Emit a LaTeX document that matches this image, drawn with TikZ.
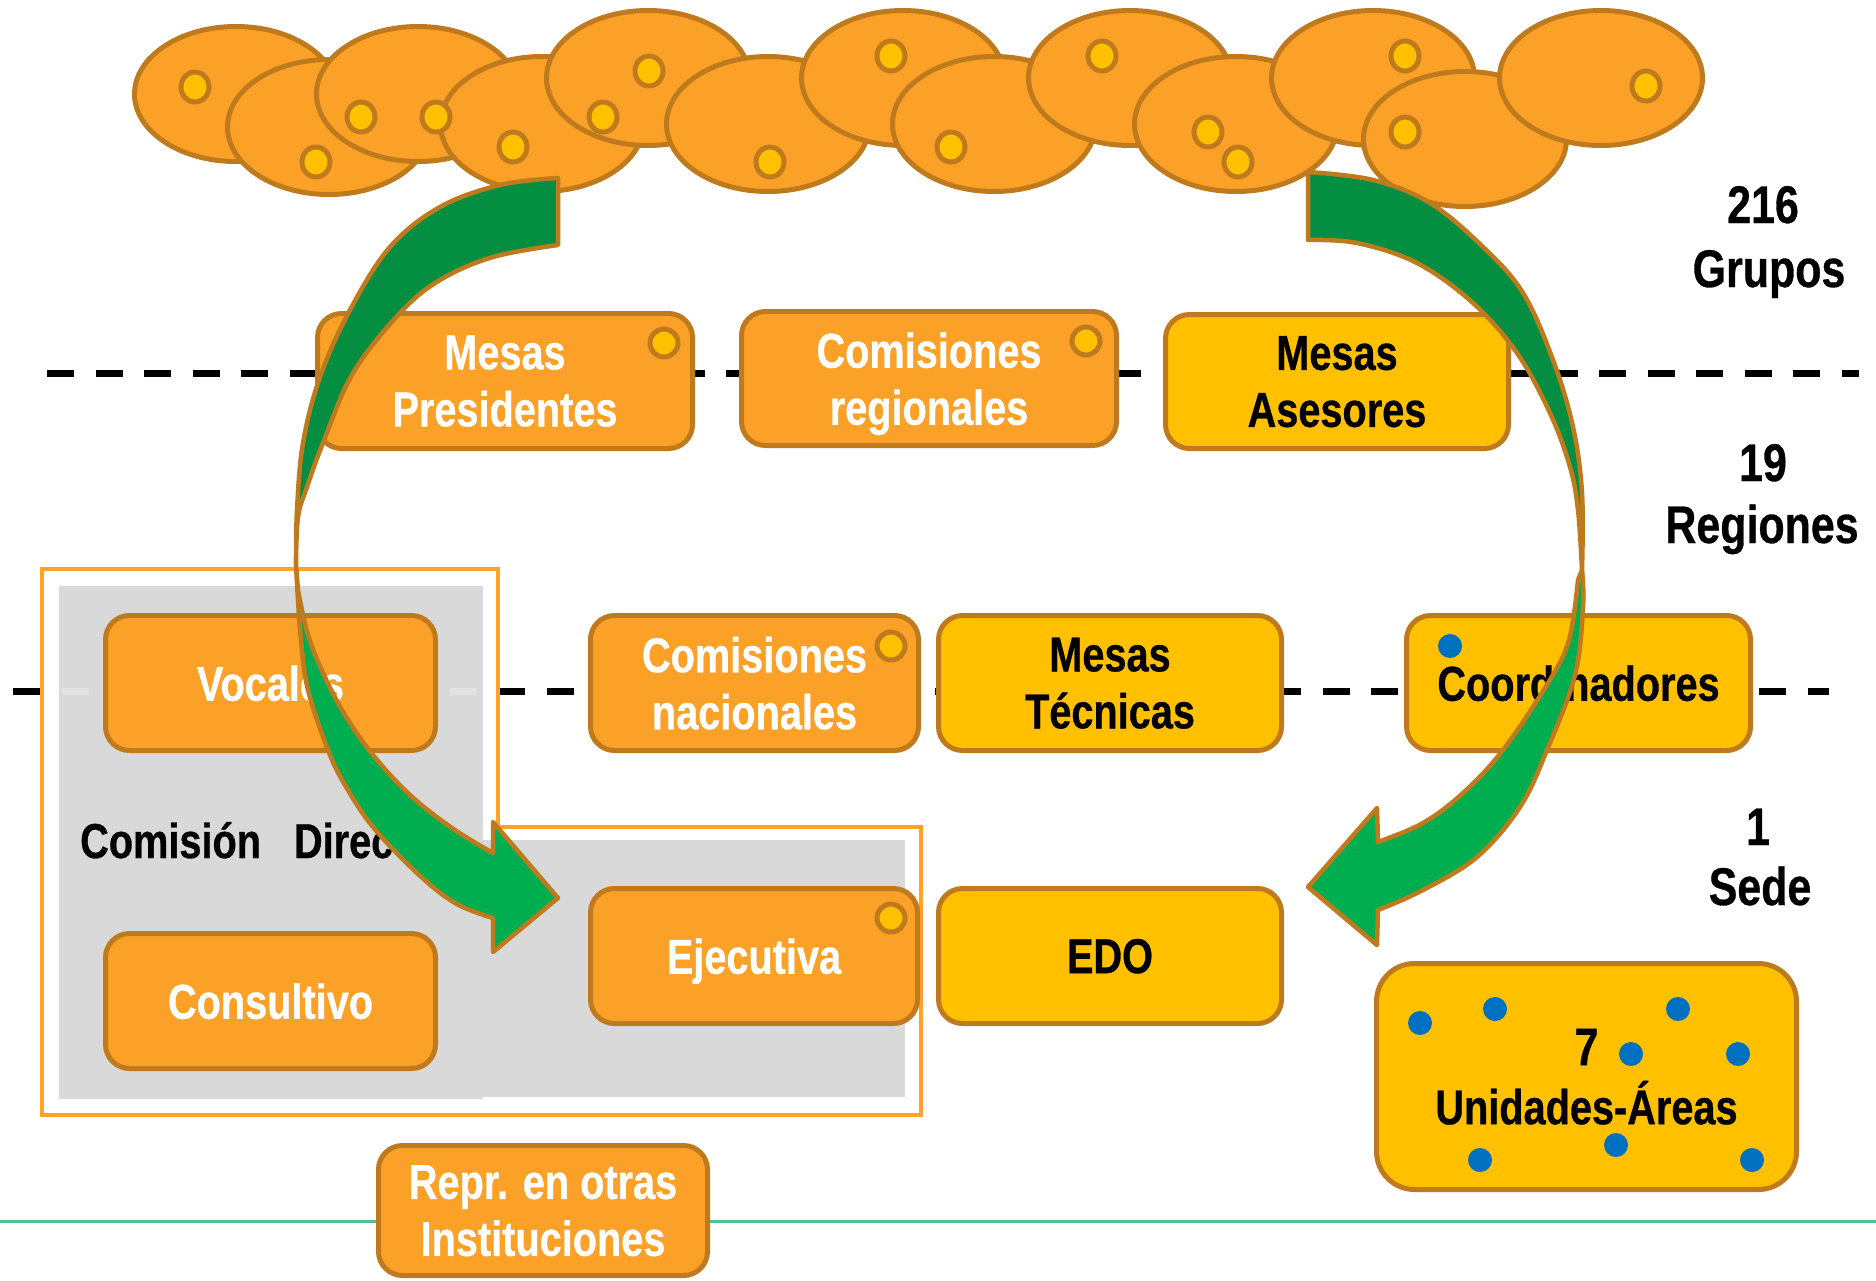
\documentclass[tikz,border=0pt]{standalone}
\usepackage{fontspec}
\setmainfont{Liberation Sans}[FakeStretch=0.81,BoldFeatures={FakeBold=0.6}]
\newcommand\boxfont{\bfseries\fontsize{49}{57}\selectfont}
\newcommand\lblfont{\bfseries\fontsize{53}{60}\selectfont}
\definecolor{orng}{RGB}{252,161,40}
\definecolor{brn}{RGB}{191,122,30}
\definecolor{yel}{RGB}{255,192,0}
\definecolor{blu}{RGB}{0,112,192}
\definecolor{gry}{RGB}{217,217,217}
\definecolor{faint}{RGB}{226,226,226}
\definecolor{frm}{RGB}{255,162,45}
\definecolor{dkg}{RGB}{3,142,65}
\definecolor{ltg}{RGB}{0,174,80}
\definecolor{mint}{RGB}{80,192,140}
\begin{document}
\begin{tikzpicture}[x=1pt,y=-1pt,
  blob/.style={fill=orng,draw=brn,line width=5pt},
  seed/.style={fill=yel,draw=brn,line width=5pt},
  bluedot/.style={fill=blu},
  obox/.style={rectangle,rounded corners=24pt,fill=orng,draw=brn,line width=5pt,
    text=white,align=center,font=\boxfont,text depth=0pt,inner sep=0pt},
  ybox/.style={obox,fill=yel,text=black},
  level/.style={font=\lblfont,anchor=base,inner sep=0pt},
  dashln/.style={line width=7pt,dash pattern=on 27pt off 21.5pt},
  arrowup/.style={fill=dkg,draw=brn,line width=4.5pt,line join=round},
  arrowlow/.style={fill=ltg,draw=brn,line width=4.5pt,line join=round},
  framebox/.style={draw=frm,line width=3.5pt,fill=white}
]
\useasboundingbox (0,0) rectangle (1876,1280);
\fill[white] (0,0) rectangle (1876,1280);

% base line
\draw[mint,line width=3pt] (0,1221) -- (1876,1221);

% level separators
\draw[dashln] (47,373) -- (1859,373);
\draw[dashln] (13,691) -- (1829,691);

% Comision directiva frame
\draw[framebox] (42,569) -- (498,569) -- (498,827) -- (921,827) -- (921,1115) -- (42,1115) -- cycle;
\fill[gry] (59,586) rectangle (483,1099);
\fill[gry] (470,840) rectangle (905,1097);
\begin{scope}
  \clip (59,586) rectangle (483,1099);
  \draw[dashln,draw=faint] (13,691) -- (1829,691);
\end{scope}

% groups (top blobs)
\draw[blob] (236,94) ellipse [x radius=101.5, y radius=67.5];
\draw[seed] (195,87) ellipse [x radius=14, y radius=15];
\draw[blob] (329,127) ellipse [x radius=101.5, y radius=67.5];
\draw[seed] (316,162) ellipse [x radius=14, y radius=15];
\draw[blob] (418,94) ellipse [x radius=101.5, y radius=67.5];
\draw[seed] (361,117) ellipse [x radius=14, y radius=15];
\draw[blob] (542,124) ellipse [x radius=101.5, y radius=67.5];
\draw[seed] (436,117) ellipse [x radius=14, y radius=15];
\draw[seed] (513,147) ellipse [x radius=14, y radius=15];
\draw[blob] (648,78) ellipse [x radius=101.5, y radius=67.5];
\draw[seed] (649,71) ellipse [x radius=14, y radius=15];
\draw[seed] (603,117) ellipse [x radius=14, y radius=15];
\draw[blob] (768,124) ellipse [x radius=101.5, y radius=67.5];
\draw[seed] (770,162) ellipse [x radius=14, y radius=15];
\draw[blob] (903,78) ellipse [x radius=101.5, y radius=67.5];
\draw[seed] (891,56) ellipse [x radius=14, y radius=15];
\draw[blob] (994,124) ellipse [x radius=101.5, y radius=67.5];
\draw[seed] (951,147) ellipse [x radius=14, y radius=15];
\draw[blob] (1130,78) ellipse [x radius=101.5, y radius=67.5];
\draw[seed] (1102,56) ellipse [x radius=14, y radius=15];
\draw[blob] (1236,124) ellipse [x radius=101.5, y radius=67.5];
\draw[seed] (1208,132) ellipse [x radius=14, y radius=15];
\draw[seed] (1238,162) ellipse [x radius=14, y radius=15];
\draw[blob] (1373,78) ellipse [x radius=101.5, y radius=67.5];
\draw[seed] (1405,56) ellipse [x radius=14, y radius=15];
\draw[blob] (1465,139) ellipse [x radius=101.5, y radius=67.5];
\draw[seed] (1405,132) ellipse [x radius=14, y radius=15];
\draw[blob] (1601,78) ellipse [x radius=101.5, y radius=67.5];
\draw[seed] (1646,86) ellipse [x radius=14, y radius=15];

% row 1
\node[obox,minimum width=375pt,minimum height=135pt] (mp) at (505,381) {Mesas\\Presidentes};
\draw[seed] (664,343) circle [radius=14];
\node[obox,minimum width=375pt,minimum height=134pt] (cr) at (929,378.5) {Comisiones\\regionales};
\draw[seed] (1086,341) circle [radius=14];
\node[ybox,minimum width=343pt,minimum height=134pt] (ma) at (1337,381.5) {Mesas\\Asesores};

% row 2
\node[obox,minimum width=330pt,minimum height=135pt] (voc) at (270.5,683) {Vocales};
\node[obox,minimum width=328pt,minimum height=135pt] (cn) at (754.5,683) {Comisiones\\nacionales};
\draw[seed] (891,646) circle [radius=14];
\node[ybox,minimum width=343pt,minimum height=135pt] (mt) at (1110,683) {Mesas\\Técnicas};
\node[ybox,minimum width=344pt,minimum height=135pt] (coord) at (1578.5,683) {Coordinadores};
\fill[bluedot] (1450,646) circle [radius=12];

% row 3
\node[obox,minimum width=327pt,minimum height=135pt] (ejec) at (754,956) {Ejecutiva};
\draw[seed] (891,918) circle [radius=14];
\node[obox,minimum width=330pt,minimum height=135pt] (cons) at (270.5,1001) {Consultivo};
\node[ybox,minimum width=343pt,minimum height=135pt] (edo) at (1110,956) {EDO};
\node[ybox,rounded corners=38pt,minimum width=420pt,minimum height=226pt,font=\bfseries\fontsize{49}{59}\selectfont] (unid) at (1586.5,1076.5) {{\fontsize{53}{59}\selectfont 7}\\Unidades-Áreas};
\foreach \px/\py in {1420/1023,1495/1009,1678/1009,1631/1054,1738/1054,1480/1160,1616/1145,1752/1160}
  \fill[bluedot] (\px,\py) circle [radius=12];
\node[obox,minimum width=329pt,minimum height=130pt] (repr) at (543,1210.5) {Repr. en otras\\Instituciones};

\node[anchor=base west,inner sep=0pt,font=\bfseries\fontsize{49}{57}\selectfont] (cd) at (80,858) {Comisión\hspace{33pt}Directiva};

% left cycle arrow
\path[arrowup] plot[smooth,tension=0.6] coordinates {(558,178) (500,185) (440,207) (390,247) (350,310) (320,377) (303,443) (297,510) (296,565)}
  -- plot[smooth,tension=0.6] coordinates {(296,565) (298,517) (307,487) (323,443) (353,373) (400,313) (440,280) (493,257) (558,245)} -- cycle;
\path[arrowlow] plot[smooth,tension=0.6] coordinates {(296,565) (298,600) (301,640) (308,690) (328,750) (345,785) (373,827) (417,873) (455,903) (493,918)}
  -- (493,952) -- (558,898) -- (493,822)
  -- plot[smooth,tension=0.6] coordinates {(493,853) (452,828) (410,795) (373,755) (345,715) (324,675) (308,635) (298,590)} -- cycle;

% right cycle arrow
\path[arrowup] plot[smooth,tension=0.6] coordinates {(1308,172) (1373,180) (1430,203) (1483,247) (1523,293) (1553,360) (1573,427) (1582,493) (1582,570)}
  -- plot[smooth,tension=0.6] coordinates {(1582,570) (1578,510) (1570,467) (1550,413) (1517,353) (1473,303) (1417,263) (1357,243) (1308,240)} -- cycle;
\path[arrowlow] plot[smooth,tension=0.6] coordinates {(1582,570) (1583,607) (1575,675) (1547,750) (1520,807) (1477,857) (1423,890) (1378,910)}
  -- (1377,945) -- (1308,887) -- (1377,808)
  -- plot[smooth,tension=0.6] coordinates {(1378,842) (1423,823) (1463,793) (1503,750) (1548,683) (1569,640) (1578,580)} -- cycle;

% level labels
\node[level] (n216) at (1763,223) {216};
\node[level] (ngrp) at (1769,287) {Grupos};
\node[level] (n19) at (1763,481) {19};
\node[level] (nreg) at (1762,543) {Regiones};
\node[level] (n1) at (1758,845) {1};
\node[level] (nsede) at (1760,905) {Sede};
\end{tikzpicture}
\end{document}
